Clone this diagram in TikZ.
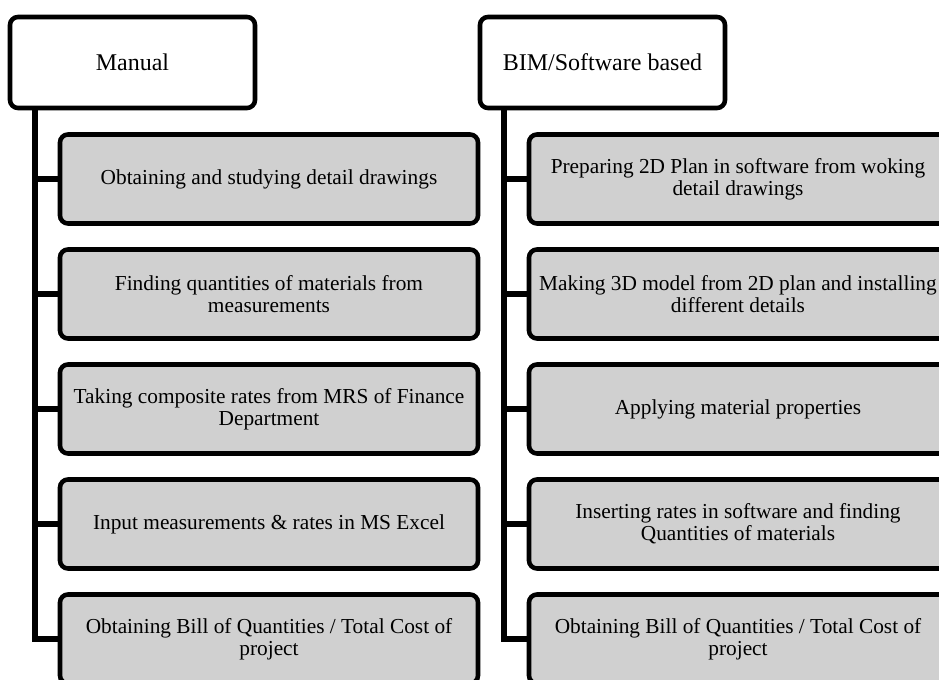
\documentclass[tikz,border=0pt]{standalone}
\usepackage{fontspec}
\setmainfont{Liberation Serif}
\definecolor{taskgray}{RGB}{208,208,208}
\tikzset{
  head/.style={draw,line width=3.4pt,rounded corners=6pt,fill=white,
    minimum width=183.75pt,minimum height=68.25pt,
    font=\fontsize{18}{20}\selectfont},
  task/.style={draw,line width=3.4pt,rounded corners=6pt,fill=taskgray,
    minimum width=313.5pt,minimum height=66.75pt,align=center,
    font=\fontsize{16}{16.3}\selectfont},
  trunk/.style={line width=3.8pt}
}
\begin{document}
\begin{tikzpicture}[x=0.75pt,y=-0.75pt]
\useasboundingbox (0,0) rectangle (939,680);
\clip (0,0) rectangle (939,680);

% manual column
\node[head] (man) at (132.5,62.5) {Manual};
\node[task] (m1) at (269,179) {Obtaining and studying detail drawings};
\node[task] (m2) at (269,294) {Finding quantities of materials from\\measurements};
\node[task] (m3) at (269,409) {Taking composite rates from MRS of Finance\\Department};
\node[task] (m4) at (269,524) {Input measurements \& rates in MS Excel};
\node[task] (m5) at (269,639) {Obtaining Bill of Quantities / Total Cost of\\project};

% BIM column
\node[head] (bim) at (602.5,62.5) {BIM/Software based};
\node[task] (b1) at (738,179) {Preparing 2D Plan in software from woking\\detail drawings};
\node[task] (b2) at (738,294) {Making 3D model from 2D plan and installing\\different details};
\node[task] (b3) at (738,409) {Applying material properties};
\node[task] (b4) at (738,524) {Inserting rates in software and finding\\Quantities of materials};
\node[task] (b5) at (738,639) {Obtaining Bill of Quantities / Total Cost of\\project};

\coordinate (mx) at (35,0);
\coordinate (bx) at (504,0);

\draw[trunk] (man.south -| mx) |- (m5.west);
\draw[trunk] (m1.west -| mx) -- (m1.west);
\draw[trunk] (m2.west -| mx) -- (m2.west);
\draw[trunk] (m3.west -| mx) -- (m3.west);
\draw[trunk] (m4.west -| mx) -- (m4.west);

\draw[trunk] (bim.south -| bx) |- (b5.west);
\draw[trunk] (b1.west -| bx) -- (b1.west);
\draw[trunk] (b2.west -| bx) -- (b2.west);
\draw[trunk] (b3.west -| bx) -- (b3.west);
\draw[trunk] (b4.west -| bx) -- (b4.west);
\end{tikzpicture}
\end{document}
